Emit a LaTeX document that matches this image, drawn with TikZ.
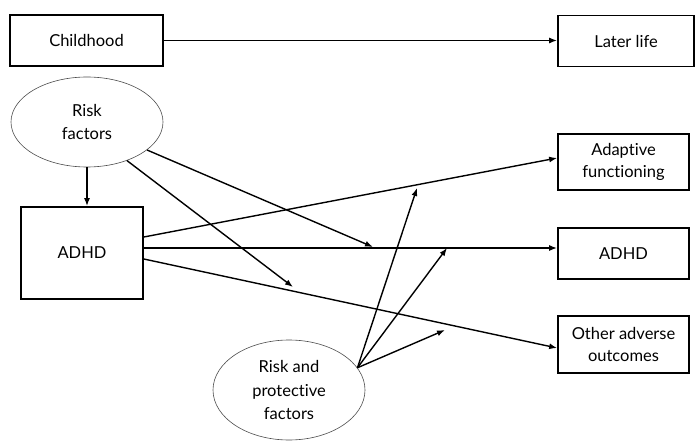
\documentclass[tikz,border=0pt]{standalone}
\usepackage{fontspec}
\setmainfont{Lato}[Ligatures=NoCommon]
\usetikzlibrary{arrows.meta,shapes.geometric,calc}
\begin{document}
\begin{tikzpicture}[x=1pt,y=-1pt,
  box/.style={draw=black,line width=1.7pt,rectangle,align=center,inner sep=0pt,font=\fontsize{16.5}{22}\selectfont},
  oval/.style={draw=black!70,line width=0.6pt,ellipse,align=center,inner sep=0pt,font=\fontsize{16.5}{23.5}\selectfont},
  arr/.style={line width=1.4pt,-{Latex[length=8pt,width=6pt]}}]
\useasboundingbox (0,0) rectangle (695,446);
\node[box,minimum width=153pt,minimum height=51pt] (child) at (86.5,40.5) {Childhood};
\node[box,minimum width=136pt,minimum height=51pt] (later) at (626,41) {Later life};
\node[oval,minimum width=152pt,minimum height=90pt] (risk) at (87,122) {Risk\\factors};
\node[box,minimum width=122pt,minimum height=92pt] (adhdL) at (82,253) {ADHD};
\node[box,minimum width=131pt,minimum height=56pt] (adapt) at (623.5,162) {Adaptive\\functioning};
\node[box,minimum width=131pt,minimum height=51pt] (adhdR) at (623.5,253.5) {ADHD};
\node[box,minimum width=131pt,minimum height=57pt] (other) at (623.5,344.5) {Other adverse\\outcomes};
\node[oval,minimum width=152pt,minimum height=100pt] (rp) at (289,390) {Risk and\\protective\\factors};
\coordinate (m1) at (373,247);
\coordinate (m2) at (293,287);
\coordinate (n1) at (417,188);
\coordinate (n2) at (447,248);
\coordinate (n3) at (445,330);
\draw[arr] (child.east) -- (child.east -| later.west);
\draw[arr] (risk.south) -- (risk.south |- adhdL.north);
\draw[arr] ([yshift=16pt]adhdL.east) -- ([yshift=4pt]adapt.west);
\draw[arr] ([yshift=5pt]adhdL.east) -- ([yshift=5.5pt]adhdR.west);
\draw[arr] ([yshift=-6pt]adhdL.east) -- ([yshift=-3.5pt]other.west);
\draw[arr] (risk.-25) -- (m1);
\draw[arr] (risk.-44) -- (m2);
\draw[arr] (rp.18) -- (n1);
\draw[arr] (rp.18) -- (n2);
\draw[arr] (rp.18) -- (n3);
\end{tikzpicture}
\end{document}
